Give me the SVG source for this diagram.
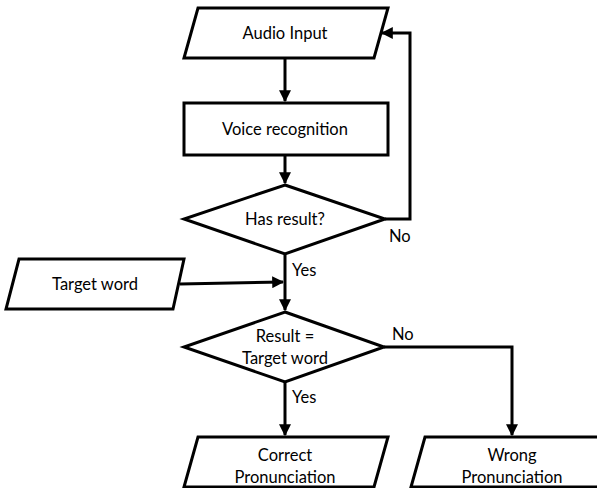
<svg xmlns="http://www.w3.org/2000/svg" width="597" height="488" viewBox="0 0 597 488">
<style>
.s{fill:#fff;stroke:#000;stroke-width:3;stroke-linejoin:miter}
.t{font-family:Lato,"Open Sans","Liberation Sans",sans-serif;font-size:16.5px;fill:#000;text-anchor:middle;dominant-baseline:central}
.l{font-family:Lato,"Open Sans","Liberation Sans",sans-serif;font-size:16.5px;fill:#000;dominant-baseline:central}
.c{fill:none;stroke:#000;stroke-width:3}
</style>
<defs>
<marker id="a" viewBox="0 0 10 10" refX="9" refY="5" markerWidth="4" markerHeight="4" orient="auto" markerUnits="strokeWidth">
<path d="M0,0 L10,5 L0,10 z" fill="#000"/>
</marker>
</defs>
<g id="connectors">
<path class="c" d="M285,58 V101" marker-end="url(#a)"/>
<path class="c" d="M285,155 V183" marker-end="url(#a)"/>
<path class="c" d="M385,219 H410 V33 H382" marker-end="url(#a)"/>
<path class="c" d="M285,255 V310" marker-end="url(#a)"/>
<path class="c" d="M180,284 L283,282" marker-end="url(#a)"/>
<path class="c" d="M285,382 V435" marker-end="url(#a)"/>
<path class="c" d="M384,347 H512 V435" marker-end="url(#a)"/>
<text class="l" x="389" y="236">No</text>
<text class="l" x="292" y="270">Yes</text>
<text class="l" x="392" y="334">No</text>
<text class="l" x="292" y="397">Yes</text>
</g>
<g id="audio-input">
<polygon class="s" points="198,8 388,8 374,58 184,58"/>
<text class="t" x="285" y="33">Audio Input</text>
</g>
<g id="voice-recognition">
<rect class="s" x="184" y="103" width="204" height="52"/>
<text class="t" x="285" y="129">Voice recognition</text>
</g>
<g id="has-result">
<polygon class="s" points="285,185 385,219 285,254 184,219"/>
<text class="t" x="285" y="219">Has result?</text>
</g>
<g id="target-word">
<polygon class="s" points="19,259 184,259 173,309 6,309"/>
<text class="t" x="95" y="284">Target word</text>
</g>
<g id="result-equals">
<polygon class="s" points="285,312 384,347 285,382 184,347"/>
<text class="t" x="285" y="336">Result =</text>
<text class="t" x="285" y="358">Target word</text>
</g>
<g id="correct">
<polygon class="s" points="198,437 388,437 374,487 184,487"/>
<text class="t" x="285" y="455">Correct</text>
<text class="t" x="285" y="477">Pronunciation</text>
</g>
<g id="wrong">
<polygon class="s" points="425,437 612,437 598,487 411,487"/>
<text class="t" x="512" y="455">Wrong</text>
<text class="t" x="512" y="477">Pronunciation</text>
</g>
</svg>
